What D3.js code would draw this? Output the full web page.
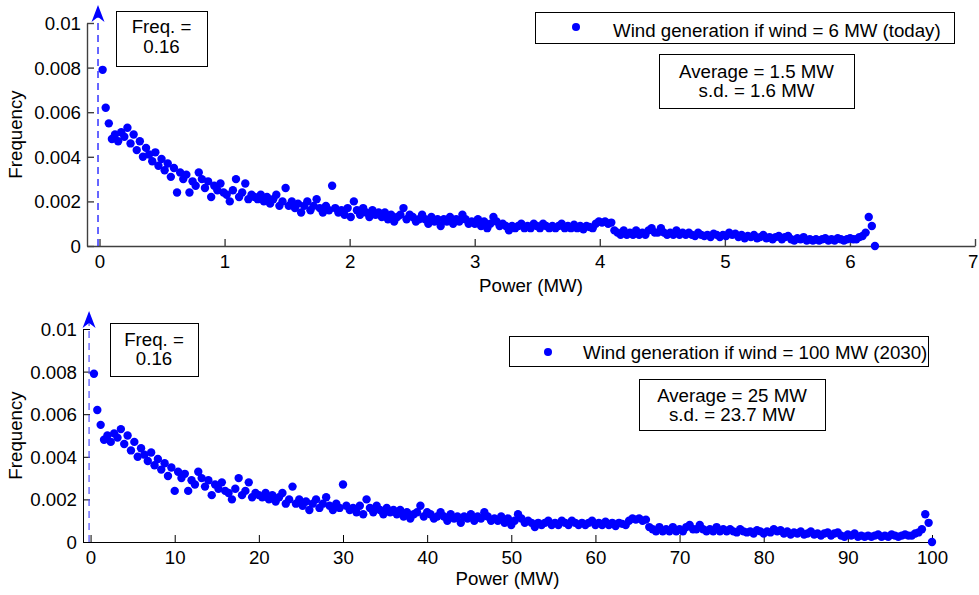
<!DOCTYPE html>
<html><head><meta charset="utf-8">
<script src="https://cdn.jsdelivr.net/npm/d3@7"></script>
<style>
body{margin:0;background:#fff}
svg text{font-family:"Liberation Sans",Arial,Helvetica,sans-serif;fill:#000}
</style>
</head><body><svg id="c" width="979" height="595"></svg>
<script>
// ---- data ----
const frequency = [
0.0079,0.0062,0.0055,0.0048,0.0050,0.0047,0.0051,0.0049,0.0053,0.0046,
0.0050,0.0043,0.0047,0.0040,0.0044,0.0041,0.0038,0.0042,0.0036,0.0039,
0.0034,0.0037,0.0031,0.0035,0.0024,0.0033,0.0030,0.0032,0.0024,0.0029,
0.0027,0.0033,0.0030,0.0026,0.0029,0.0022,0.0027,0.0025,0.0028,0.0024,
0.0023,0.0020,0.0025,0.0030,0.0022,0.0024,0.0028,0.0021,0.0023,0.0022,
0.0021,0.0023,0.0020,0.0022,0.0019,0.0021,0.0023,0.0018,0.0020,0.0026,
0.0018,0.0020,0.0017,0.0019,0.0015,0.0018,0.0020,0.0016,0.0018,0.0021,
0.0017,0.0015,0.0018,0.0016,0.0027,0.0017,0.0015,0.0016,0.0014,0.0017,
0.0013,0.0020,0.0016,0.0014,0.0017,0.0015,0.0013,0.0016,0.0014,0.0015,
0.0013,0.0015,0.0012,0.0014,0.0011,0.0013,0.0014,0.0017,0.0012,0.0014,
0.0013,0.0011,0.0012,0.0014,0.0012,0.0010,0.0013,0.0011,0.0012,0.0009,
0.0012,0.0011,0.0013,0.0010,0.0012,0.0011,0.0014,0.0012,0.0010,0.0011,
0.0010,0.0012,0.0009,0.0011,0.0008,0.0010,0.0013,0.0011,0.0009,0.0010,
0.0009,0.0007,0.0009,0.0008,0.0009,0.0010,0.0008,0.0009,0.0008,0.0010,
0.0009,0.0008,0.0010,0.0009,0.0008,0.0009,0.0008,0.0009,0.0010,0.0008,
0.0009,0.0008,0.00095,0.0008,0.0009,0.00075,0.0009,0.00085,0.0008,0.0010,
0.0011,0.00105,0.0011,0.0010,0.00105,0.0007,0.0006,0.0005,0.0007,0.0005,
0.0006,0.0005,0.0007,0.0005,0.0006,0.0005,0.0007,0.0008,0.0006,0.0006,
0.0008,0.0006,0.0005,0.0006,0.0005,0.0007,0.0005,0.0006,0.0005,0.0006,
0.0005,0.00045,0.0006,0.0005,0.00045,0.0005,0.0004,0.00055,0.0005,0.0004,
0.0005,0.00045,0.0006,0.0005,0.00055,0.0004,0.0005,0.00035,0.00045,0.0004,
0.0005,0.00035,0.0004,0.0005,0.00035,0.0004,0.0003,0.0004,0.00045,0.0003,
0.0004,0.00045,0.0003,0.00025,0.00035,0.0003,0.0004,0.00025,0.0003,0.00025,
0.0003,0.00025,0.0003,0.00035,0.00025,0.0003,0.00025,0.00035,0.0003,0.00025,
0.0003,0.00035,0.0003,0.0003,0.0004,0.00045,0.0006,0.0013,0.0009,0.0000
];
const capacities = [6.2, 100];           // MW installed: today, 2030
const spikeFrequency = 0.16;              // frequency of zero output (off-scale)
const xTicksTop = [0,1,2,3,4,5,6,7];
const xTicksBottom = [0,10,20,30,40,50,60,70,80,90,100];
const yTicks = [0,0.002,0.004,0.006,0.008,0.01];
const yTickLabels = ["0","0.002","0.004","0.006","0.008","0.01"];
const legendLabels = ["Wind generation if wind = 6 MW (today)","Wind generation if wind = 100 MW (2030)"];
const statsLines = [["Average = 1.5 MW","s.d. = 1.6 MW"],["Average = 25 MW","s.d. = 23.7 MW"]];
const freqLines = ["Freq. =", String(spikeFrequency)];
const xLabel = "Power (MW)", yLabel = "Frequency";

// ---- layout ----
const panels = [
 {cap:capacities[0], xDomain:[-0.1,7], xTicks:xTicksTop, L:87, R:975, T:23, B:246,
  axisColor:"#404040", axisW:1.4, dashColor:"#0000ff",
  freqBox:[116,11,91,55], freqBase:[33,53], legBox:[535,12,419,31], dot:[576,27], legText:[613,37],
  statBox:[659,54,195,54], statBase:[78,97], xLabelY:292, legend:legendLabels[0], stats:statsLines[0]},
 {cap:capacities[1], xDomain:[-0.9,100], xTicks:xTicksBottom, L:83, R:932, T:329, B:542,
  axisColor:"#000", axisW:1, dashColor:"#4d4dff",
  freqBox:[110,323,88,53], freqBase:[346,365], legBox:[509,336,419,30], dot:[548,352], legText:[583,359],
  statBox:[639,379,186,51], statBase:[402,421], xLabelY:585, legend:legendLabels[1], stats:statsLines[1]}
];
const FS = 18.7;
const W = 979;
const svg = d3.select("#c");

panels.forEach(p => {
  const x = d3.scaleLinear().domain(p.xDomain).range([p.L, p.R]);
  const y = d3.scaleLinear().domain([0, 0.01]).range([p.B, p.T]);
  const g = svg.append("g");

  // axes
  const xAxis = d3.axisBottom(x).tickValues(p.xTicks).tickSizeInner(-7).tickSizeOuter(0).tickPadding(0).tickFormat(d3.format("d"));
  const gx = g.append("g").attr("transform", `translate(0,${p.B})`).call(xAxis);
  gx.select(".domain").attr("stroke", p.axisColor).attr("stroke-width", p.axisW);
  gx.selectAll(".tick line").attr("stroke", p.axisColor).attr("stroke-width", p.axisW);
  gx.selectAll(".tick text").attr("y", 22).attr("dy", null).attr("font-size", FS).style("font-family", '"Liberation Sans",Arial,sans-serif').attr("fill","#000");
  // keep a label at the right page edge fully visible
  gx.selectAll(".tick").filter(d => x(d) + 6 > W).select("text")
    .attr("text-anchor", "end").attr("x", d => W - 1 - x(d));

  const yAxis = d3.axisLeft(y).tickValues(yTicks).tickSizeInner(-7).tickSizeOuter(0).tickPadding(0)
    .tickFormat((d,i) => yTickLabels[i]);
  const gy = g.append("g").attr("transform", `translate(${p.L},0)`).call(yAxis);
  gy.select(".domain").attr("stroke", p.axisColor).attr("stroke-width", p.axisW);
  gy.selectAll(".tick line").attr("stroke", p.axisColor).attr("stroke-width", p.axisW);
  gy.selectAll(".tick text").attr("x", -6).attr("dy", "0.35em").attr("font-size", FS).style("font-family", '"Liberation Sans",Arial,sans-serif').attr("fill","#000");

  // spike arrow (zero-output frequency, off-scale)
  const ax = x(0) - 1.5, tipY = p.T - 18;
  g.append("line").attr("x1", ax).attr("x2", ax).attr("y1", y(0)).attr("y2", tipY + 12)
    .attr("stroke", p.dashColor).attr("stroke-width", 1.2).attr("stroke-dasharray", "7,5");
  g.append("path").attr("d", `M${ax},${tipY} L${ax+6.5},${tipY+17} L${ax},${tipY+12} L${ax-6.5},${tipY+17} Z`)
    .attr("fill", "#0000ff");

  // points
  const n = frequency.length;
  g.append("g").selectAll("circle").data(frequency).join("circle")
    .attr("cx", (d,i) => x((i+1)/n * p.cap))
    .attr("cy", d => y(d))
    .attr("r", 4.2).attr("fill", "#0000ff");

  // freq box
  const fb = p.freqBox;
  g.append("rect").attr("x", fb[0]+0.5).attr("y", fb[1]+0.5).attr("width", fb[2]).attr("height", fb[3])
    .attr("fill", "#fff").attr("stroke", "#000");
  freqLines.forEach((t,i) => g.append("text").attr("x", fb[0]+fb[2]/2).attr("y", p.freqBase[i])
    .attr("text-anchor","middle").attr("font-size", FS).text(t));

  // legend
  const lb = p.legBox;
  g.append("rect").attr("x", lb[0]+0.5).attr("y", lb[1]+0.5).attr("width", lb[2]).attr("height", lb[3])
    .attr("fill", "#fff").attr("stroke", "#000");
  g.append("circle").attr("cx", p.dot[0]).attr("cy", p.dot[1]).attr("r", 4).attr("fill", "#0000ff");
  g.append("text").attr("x", p.legText[0]).attr("y", p.legText[1]).attr("font-size", FS).text(p.legend);

  // stats box
  const sb = p.statBox;
  g.append("rect").attr("x", sb[0]+0.5).attr("y", sb[1]+0.5).attr("width", sb[2]).attr("height", sb[3])
    .attr("fill", "#fff").attr("stroke", "#000");
  p.stats.forEach((t,i) => g.append("text").attr("x", sb[0]+sb[2]/2).attr("y", p.statBase[i])
    .attr("text-anchor","middle").attr("font-size", FS).text(t));

  // axis labels
  g.append("text").attr("x", (p.L+p.R)/2).attr("y", p.xLabelY).attr("text-anchor","middle").attr("font-size", FS).text(xLabel);
  g.append("text").attr("transform", `translate(22,${(p.T+p.B)/2}) rotate(-90)`).attr("text-anchor","middle").attr("font-size", FS).text(yLabel);
});
</script>
</body></html>
